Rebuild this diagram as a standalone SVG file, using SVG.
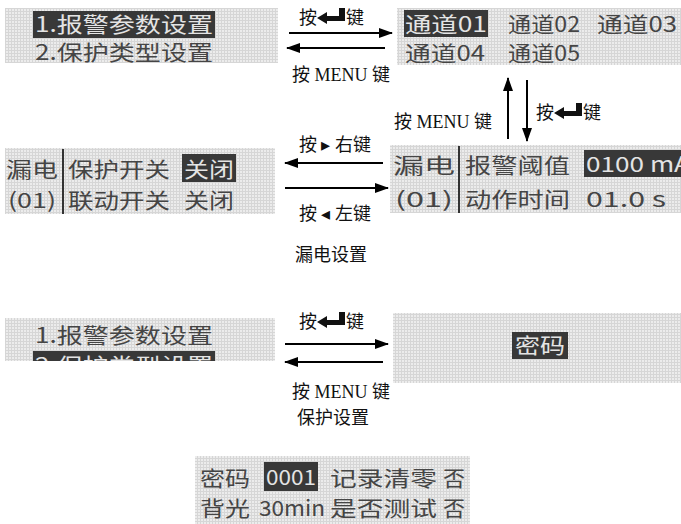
<svg xmlns="http://www.w3.org/2000/svg" xmlns:xlink="http://www.w3.org/1999/xlink" width="681" height="524" viewBox="0 0 681 524">
<style>
.lcd{fill:url(#grid)}
.t{font-family:"Noto Sans CJK SC","DejaVu Sans",sans-serif;font-size:21px;fill:#454545}
.hl{fill:#383838}
.ht{font-family:"Noto Sans CJK SC","DejaVu Sans",sans-serif;font-size:21px;fill:#e4e4e4}
.lab{font-family:"Liberation Serif","Noto Sans CJK SC",serif;font-size:18px;fill:#111}
.ln{stroke:#000;stroke-width:2;fill:none}
.sep{stroke:#333;stroke-width:2}
</style>
<defs>
<pattern id="grid" width="3" height="3" patternUnits="userSpaceOnUse">
<rect width="3" height="3" fill="#d6d6d6"/>
<rect width="2" height="2" fill="#ececec"/>
</pattern>
<marker id="ah" viewBox="0 0 14 10" refX="13" refY="5" markerWidth="14" markerHeight="10" markerUnits="userSpaceOnUse" orient="auto">
<path d="M0,0 L14,5 L0,10 Z" fill="#000"/>
</marker>
<g id="enter">
<path d="M0,0 L10,-6 L10,-2 L22,-2 L22,-10 L28,-10 L28,3 L10,3 L10,6 Z" fill="#111"/>
</g>
<clipPath id="c5"><rect x="5" y="318" width="270" height="43"/></clipPath>
</defs>

<g id="panel-menu1">
<rect class="lcd" x="5" y="8" width="273" height="55"/>
<rect class="hl" x="33" y="11" width="182" height="27"/>
<text class="ht" x="35" y="32" textLength="178" lengthAdjust="spacingAndGlyphs">1.报警参数设置</text>
<text class="t" x="35" y="60" textLength="178" lengthAdjust="spacingAndGlyphs">2.保护类型设置</text>
</g>

<g id="panel-channels">
<rect class="lcd" x="397" y="8" width="284" height="57"/>
<rect class="hl" x="404" y="10" width="84" height="27"/>
<text class="ht" x="405" y="32" textLength="82" lengthAdjust="spacingAndGlyphs">通道01</text>
<text class="t" x="508" y="32" textLength="72" lengthAdjust="spacingAndGlyphs">通道02</text>
<text class="t" x="597" y="32" textLength="80" lengthAdjust="spacingAndGlyphs">通道03</text>
<text class="t" x="405" y="61" textLength="80" lengthAdjust="spacingAndGlyphs">通道04</text>
<text class="t" x="508" y="61" textLength="72" lengthAdjust="spacingAndGlyphs">通道05</text>
</g>

<g id="panel-leak-switch">
<rect class="lcd" x="5" y="148" width="270" height="66"/>
<line class="sep" x1="63" y1="149" x2="63" y2="214"/>
<text class="t" x="6" y="177" textLength="52" lengthAdjust="spacingAndGlyphs">漏电</text>
<text class="t" x="68" y="177" textLength="102" lengthAdjust="spacingAndGlyphs">保护开关</text>
<rect class="hl" x="182" y="154" width="54" height="28"/>
<text class="ht" x="184" y="177" textLength="50" lengthAdjust="spacingAndGlyphs">关闭</text>
<text class="t" x="8" y="208" textLength="48" lengthAdjust="spacingAndGlyphs">(01)</text>
<text class="t" x="68" y="208" textLength="102" lengthAdjust="spacingAndGlyphs">联动开关</text>
<text class="t" x="184" y="208" textLength="50" lengthAdjust="spacingAndGlyphs">关闭</text>
</g>

<g id="panel-leak-alarm">
<rect class="lcd" x="390" y="145" width="291" height="68"/>
<line class="sep" x1="459" y1="146" x2="459" y2="213"/>
<text class="t" x="393" y="173" textLength="62" lengthAdjust="spacingAndGlyphs">漏电</text>
<text class="t" x="465" y="173" textLength="105" lengthAdjust="spacingAndGlyphs">报警阈值</text>
<rect class="hl" x="584" y="150" width="97" height="27"/>
<text class="ht" x="586" y="172" textLength="104" lengthAdjust="spacingAndGlyphs">0100 mA</text>
<text class="t" x="395" y="207" textLength="58" lengthAdjust="spacingAndGlyphs">(01)</text>
<text class="t" x="465" y="207" textLength="105" lengthAdjust="spacingAndGlyphs">动作时间</text>
<text class="t" x="586" y="207" textLength="80" lengthAdjust="spacingAndGlyphs">01.0 s</text>
</g>

<g id="panel-menu2">
<rect class="lcd" x="5" y="318" width="270" height="43"/>
<text class="t" x="35" y="343" textLength="178" lengthAdjust="spacingAndGlyphs">1.报警参数设置</text>
<g clip-path="url(#c5)">
<rect class="hl" x="33" y="351" width="182" height="27"/>
<text class="ht" x="35" y="373" textLength="178" lengthAdjust="spacingAndGlyphs">2.保护类型设置</text>
</g>
</g>

<g id="panel-password">
<rect class="lcd" x="393" y="313" width="288" height="70"/>
<rect class="hl" x="512" y="332" width="56" height="27"/>
<text class="ht" x="515" y="353" textLength="50" lengthAdjust="spacingAndGlyphs">密码</text>
</g>

<g id="panel-protect">
<rect class="lcd" x="195" y="456" width="275" height="68"/>
<text class="t" x="200" y="486" textLength="50" lengthAdjust="spacingAndGlyphs">密码</text>
<rect class="hl" x="264" y="462" width="54" height="29"/>
<text class="ht" x="266" y="485" textLength="50" lengthAdjust="spacingAndGlyphs">0001</text>
<text class="t" x="330" y="486" textLength="107" lengthAdjust="spacingAndGlyphs">记录清零</text>
<text class="t" x="443" y="486" textLength="22" lengthAdjust="spacingAndGlyphs">否</text>
<text class="t" x="200" y="516" textLength="50" lengthAdjust="spacingAndGlyphs">背光</text>
<text class="t" x="259" y="516" textLength="66" lengthAdjust="spacingAndGlyphs">30min</text>
<text class="t" x="330" y="516" textLength="107" lengthAdjust="spacingAndGlyphs">是否测试</text>
<text class="t" x="443" y="516" textLength="22" lengthAdjust="spacingAndGlyphs">否</text>
</g>

<g id="connectors">
<line class="ln" x1="289" y1="33" x2="392" y2="33" marker-end="url(#ah)"/>
<line class="ln" x1="385" y1="48" x2="287" y2="48" marker-end="url(#ah)"/>
<line class="ln" x1="508" y1="139" x2="508" y2="78" marker-end="url(#ah)"/>
<line class="ln" x1="527" y1="80" x2="527" y2="141" marker-end="url(#ah)"/>
<line class="ln" x1="383" y1="163" x2="285" y2="163" marker-end="url(#ah)"/>
<line class="ln" x1="285" y1="188" x2="388" y2="188" marker-end="url(#ah)"/>
<line class="ln" x1="285" y1="344" x2="388" y2="344" marker-end="url(#ah)"/>
<line class="ln" x1="383" y1="362" x2="285" y2="362" marker-end="url(#ah)"/>
</g>

<g id="labels">
<text class="lab" x="299" y="24">按</text>
<use xlink:href="#enter" x="317" y="18"/>
<text class="lab" x="346" y="24">键</text>
<text class="lab" x="292" y="81">按 MENU 键</text>
<text class="lab" x="394" y="128">按 MENU 键</text>
<text class="lab" x="536" y="119">按</text>
<use xlink:href="#enter" x="554" y="113"/>
<text class="lab" x="583" y="119">键</text>
<text class="lab" x="299" y="151">按 ▸ 右键</text>
<text class="lab" x="299" y="220">按 ◂ 左键</text>
<text class="lab" x="295" y="261">漏电设置</text>
<text class="lab" x="299" y="328">按</text>
<use xlink:href="#enter" x="317" y="322"/>
<text class="lab" x="346" y="328">键</text>
<text class="lab" x="292" y="398">按 MENU 键</text>
<text class="lab" x="297" y="424">保护设置</text>
</g>
</svg>
